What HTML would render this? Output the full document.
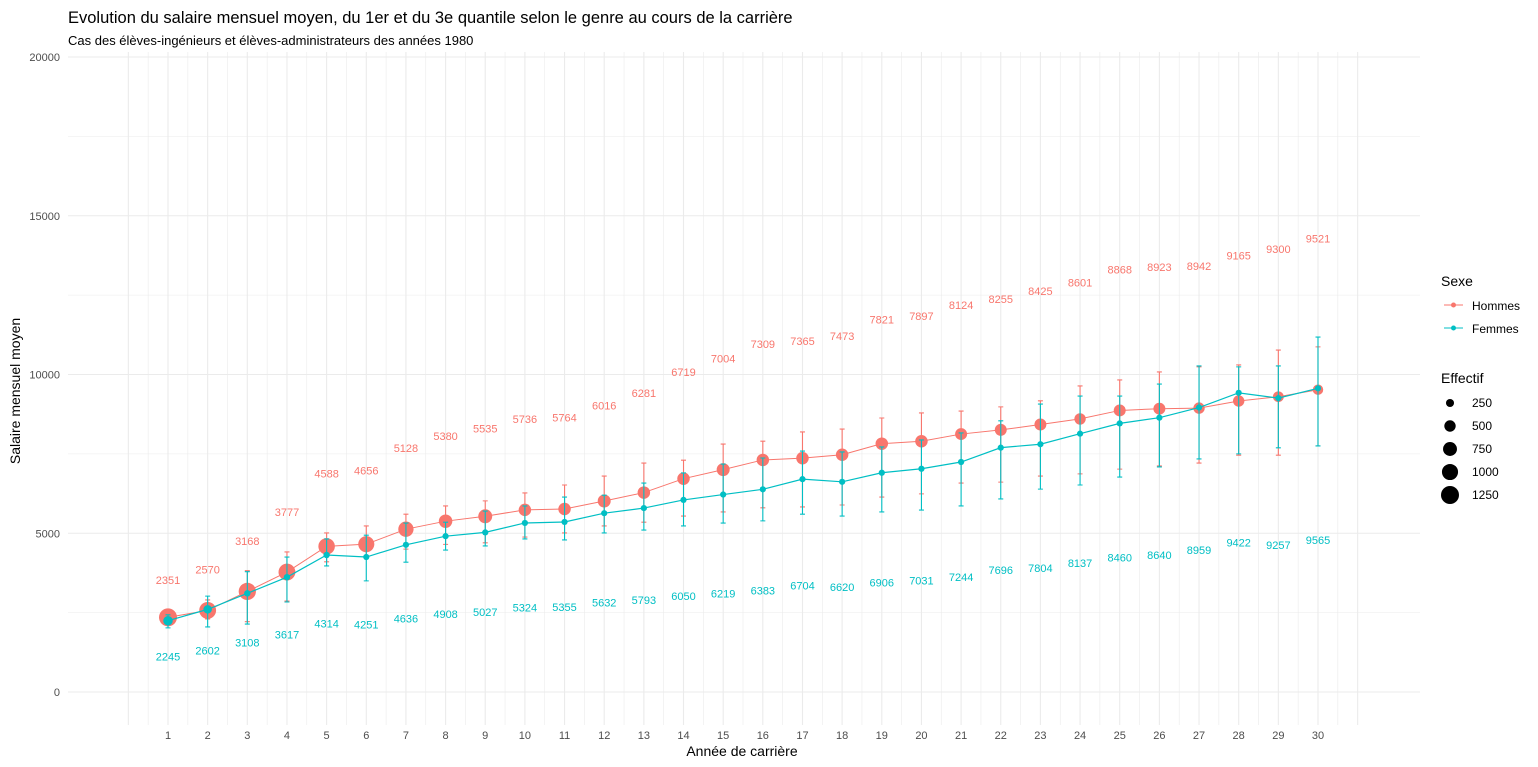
<!DOCTYPE html>
<html><head><meta charset="utf-8">
<style>
html,body{margin:0;padding:0;background:#fff;}
svg{display:block;font-family:"Liberation Sans",Arial,sans-serif;}
</style></head>
<body>
<svg id="chart" width="1538" height="767" xmlns="http://www.w3.org/2000/svg">
<text x="68" y="23" font-size="16.5" fill="#000">Evolution du salaire mensuel moyen, du 1er et du 3e quantile selon le genre au cours de la carrière</text>
<text x="68" y="45" font-size="13" fill="#000">Cas des élèves-ingénieurs et élèves-administrateurs des années 1980</text>
<g id="grid"></g>
<g id="yticks"></g>
<g id="xticks"></g>
<g id="series"></g>
<text transform="translate(20,391) rotate(-90)" text-anchor="middle" font-size="14" fill="#000">Salaire mensuel moyen</text>
<text x="742" y="756" text-anchor="middle" font-size="14" fill="#000">Année de carrière</text>
<g>
<text x="1441" y="286" font-size="14">Sexe</text>
<g>
<line x1="1444" y1="305" x2="1463" y2="305" stroke="#F8766D" stroke-width="1"/>
<circle cx="1453.5" cy="305" r="2.5" fill="#F8766D"/>
<text x="1472" y="310" font-size="12">Hommes</text></g>
<g>
<line x1="1444" y1="328" x2="1463" y2="328" stroke="#00BFC4" stroke-width="1"/>
<circle cx="1453.5" cy="328" r="2.5" fill="#00BFC4"/>
<text x="1472" y="333" font-size="12">Femmes</text></g>
</g>
<g id="legsize">
<text x="1441" y="383" font-size="14">Effectif</text>
</g>
</svg>
<script>
const years = [1,2,3,4,5,6,7,8,9,10,11,12,13,14,15,16,17,18,19,20,21,22,23,24,25,26,27,28,29,30];
const menMean = [2351,2570,3168,3777,4588,4656,5128,5380,5535,5736,5764,6016,6281,6719,7004,7309,7365,7473,7821,7897,8124,8255,8425,8601,8868,8923,8942,9165,9300,9521];
const menQ1 = [2150,2300,2214,2866,4100,4300,4500,4650,4700,4880,5010,5230,5350,5540,5670,5800,5830,5890,6140,6240,6580,6610,6800,6870,7020,7120,7210,7460,7460,7750];
const menQ3 = [2450,2900,3820,4410,5010,5230,5600,5860,6020,6270,6520,6800,7210,7300,7810,7900,8190,8280,8630,8790,8850,8980,9170,9640,9830,10080,10240,10300,10770,10870];
const menN = [1250,1100,1150,1100,1050,1000,900,700,750,600,600,650,600,600,650,600,600,600,600,600,550,550,550,500,550,550,500,500,450,420];
const womenMean = [2245,2602,3108,3617,4314,4251,4636,4908,5027,5324,5355,5632,5793,6050,6219,6383,6704,6620,6906,7031,7244,7696,7804,8137,8460,8640,8959,9422,9257,9565];
const womenQ1 = [2020,2050,2140,2835,3970,3500,4090,4470,4600,4820,4790,5010,5100,5230,5320,5390,5600,5540,5670,5730,5860,6080,6390,6520,6770,7090,7340,7500,7690,7750];
const womenQ3 = [2430,3020,3790,4250,4820,4940,5320,5350,5700,5860,6140,6200,6580,6900,7180,7370,7590,7560,7720,7940,8160,8540,9070,9320,9320,9700,10270,10240,10270,11180];
const womenN = [350,280,160,160,160,150,150,150,150,150,150,150,150,150,150,150,150,150,150,150,150,150,150,150,150,150,150,150,150,150];
const yTicks = [0,5000,10000,15000,20000];
const sizeLegend = [250,500,750,1000,1250];

const NS="http://www.w3.org/2000/svg";
const X = v => 168 + (v-1)*39.655;
const Y = v => 692 - v*0.03175;
const R = n => 9*Math.sqrt(n/1250);
function mk(tag, attrs, parent){const e=document.createElementNS(NS,tag);for(const k in attrs)e.setAttribute(k,attrs[k]);parent.appendChild(e);return e;}
const grid=document.getElementById('grid');
for(let v=0; v<=20000; v+=2500){
  const l=mk('line',{x1:68,x2:1420,y1:Y(v),y2:Y(v),stroke:'#ebebeb','stroke-width':v%5000===0?1.1:0.6},grid);
  
  
}
for(let v=0; v<=31; v+=0.5){
  const l=mk('line',{x1:X(v),x2:X(v),y1:52,y2:725,stroke:'#ebebeb','stroke-width':Number.isInteger(v)?1.1:0.6},grid);
  
  
}
const yt=document.getElementById('yticks');
yTicks.forEach(v=>{
  const t=mk('text',{x:60,y:Y(v)+4,'text-anchor':'end','font-size':11,fill:'#4d4d4d'},yt);
  t.textContent=v;
  
  
});
const xt=document.getElementById('xticks');
years.forEach(v=>{
  const t=mk('text',{x:X(v),y:739,'text-anchor':'middle','font-size':11,fill:'#4d4d4d'},xt);
  t.textContent=v;
  
  
});
const ser=document.getElementById('series');
function drawSeries(name,color,mean,q1,q3,n,labelFactor,lineW){
  const g=mk('g',{},ser);
  
  
  const pts=years.map((y,i)=>X(y)+','+Y(mean[i])).join(' ');
  const pl=mk('polyline',{points:pts,fill:'none',stroke:color,'stroke-width':lineW},g);
  
  
  years.forEach((y,i)=>{
    const x=X(y);
    const eb=mk('path',{d:`M${x-2.5},${Y(q3[i])}H${x+2.5}M${x},${Y(q3[i])}V${Y(q1[i])}M${x-2.5},${Y(q1[i])}H${x+2.5}`,stroke:color,'stroke-width':1.1,fill:'none'},g);
    
    
  });
  years.forEach((y,i)=>{
    const c=mk('circle',{cx:X(y),cy:Y(mean[i]),r:R(n[i]),fill:color},g);
    
    
    const t=mk('text',{x:X(y),y:Y(mean[i]*labelFactor)+4,'text-anchor':'middle','font-size':11,fill:color},g);
    t.textContent=mean[i];
    
    
  });
}
drawSeries('hommes','#F8766D',menMean,menQ1,menQ3,menN,1.5,1);
drawSeries('femmes','#00BFC4',womenMean,womenQ1,womenQ3,womenN,0.5,1.2);
const ls=document.getElementById('legsize');
sizeLegend.forEach((v,i)=>{
  const cy=403+i*23;
  const c=mk('circle',{cx:1450,cy:cy,r:R(v),fill:'#000'},ls);
  
  
  const t=mk('text',{x:1472,y:cy+4,'font-size':12},ls);
  t.textContent=v;
  
  
});
</script>
</body></html>
